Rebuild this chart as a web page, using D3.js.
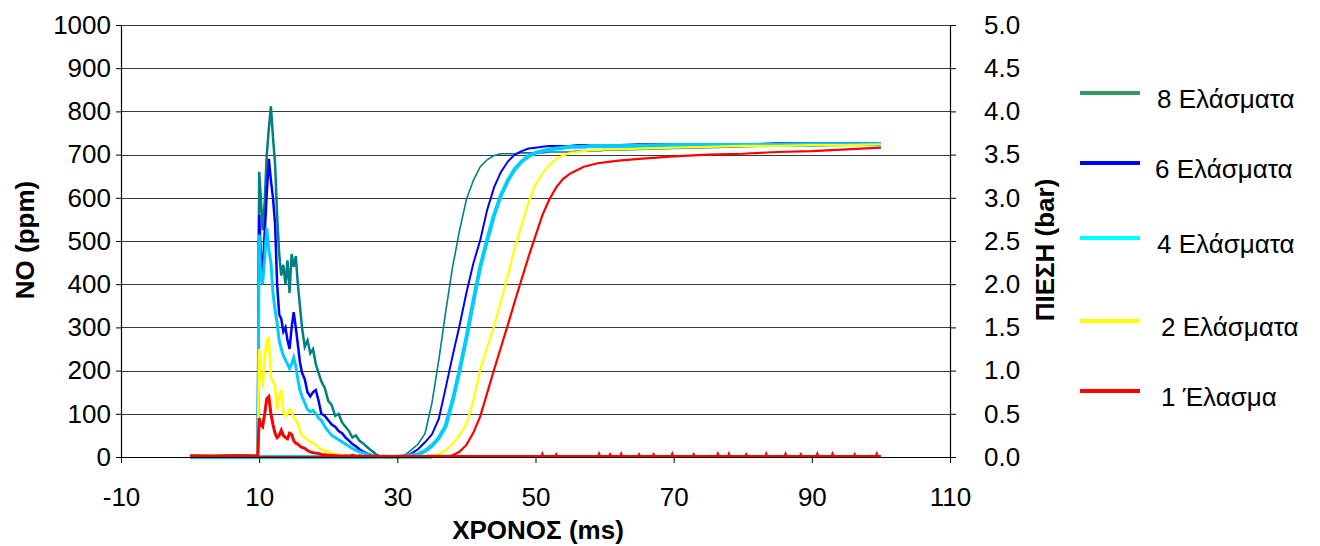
<!DOCTYPE html>
<html>
<head>
<meta charset="utf-8">
<script src="https://cdn.jsdelivr.net/npm/d3@7"></script>
<style>
  html, body { margin: 0; padding: 0; background: #fff; }
  svg { display: block; }
  text { font-family: "Liberation Sans", Arial, sans-serif; fill: #000; }
</style>
</head>
<body>
<svg id="chart" width="1320" height="546"></svg>
<script>
// ---------------- DATA ----------------
const seriesNames = ["8 Ελάσματα", "6 Ελάσματα", "4 Ελάσματα", "2 Ελάσματα", "1 Έλασμα"];
const xTicks = [-10, 10, 30, 50, 70, 90, 110];
const leftTicks = [0, 100, 200, 300, 400, 500, 600, 700, 800, 900, 1000];
const rightTicks = [0, 0.5, 1.0, 1.5, 2.0, 2.5, 3.0, 3.5, 4.0, 4.5, 5.0];
const xTitle = "ΧΡΟΝΟΣ (ms)";
const leftTitle = "NO (ppm)";
const rightTitle = "ΠΙΕΣΗ (bar)";

// NO (ppm), left axis
const noTime = [0, 3, 6, 9.8, 10.0, 10.2, 10.5, 10.8, 11.1, 11.4, 11.7, 12.0, 12.3, 12.6, 12.9, 13.2, 13.5, 13.8, 14.1, 14.4, 14.7, 15.0, 15.3, 15.6, 15.9, 16.2, 16.6, 17.0, 17.4, 17.8, 18.2, 18.6, 19.0, 19.5, 20.0, 20.5, 21.0, 21.5, 22.0, 22.5, 23.0, 23.5, 24.0, 24.5, 25.0, 25.5, 26.0, 26.5, 27.0, 27.5, 28.0, 29, 31, 33, 35];
const no8 = [3, 2, 4, 3, 660, 610, 525, 590, 700, 760, 812, 740, 680, 560, 470, 420, 445, 400, 455, 380, 470, 440, 465, 400, 350, 300, 255, 270, 240, 250, 215, 195, 175, 160, 130, 120, 95, 100, 80, 70, 60, 45, 50, 38, 32, 25, 18, 12, 5, 2, 0, 0, 0, 0, 0];
const no6 = [2, 3, 2, 2, 560, 480, 420, 520, 610, 690, 640, 600, 540, 400, 330, 320, 290, 300, 270, 250, 300, 335, 300, 260, 220, 195, 180, 150, 140, 150, 155, 130, 100, 95, 85, 75, 70, 60, 55, 45, 38, 30, 25, 18, 13, 9, 6, 3, 1, 0, 0, 0, 0, 0, 0];
const no4 = [2, 2, 3, 2, 515, 420, 400, 460, 530, 480, 450, 380, 340, 310, 270, 250, 235, 225, 215, 205, 215, 230, 210, 180, 155, 140, 125, 110, 105, 108, 100, 90, 85, 70, 60, 50, 45, 40, 35, 30, 25, 20, 16, 12, 10, 7, 5, 3, 1, 0, 0, 0, 0, 0, 0];
const no2 = [2, 3, 2, 2, 250, 200, 160, 230, 270, 275, 185, 175, 165, 110, 140, 155, 105, 95, 100, 110, 105, 90, 85, 78, 60, 50, 45, 40, 35, 32, 28, 22, 18, 14, 12, 9, 7, 5, 4, 3, 2, 2, 1, 1, 2, 1, 0, 1, 0, 0, 0, 0, 0, 0, 0];
const no1 = [3, 2, 3, 2, 90, 75, 70, 100, 135, 140, 100, 75, 55, 45, 50, 62, 50, 45, 42, 55, 52, 38, 32, 30, 25, 22, 20, 15, 12, 10, 9, 8, 6, 5, 4, 4, 3, 3, 2, 3, 2, 4, 2, 3, 2, 1, 2, 1, 2, 1, 2, 1, 2, 1, 2];
const no1TailTime = [40, 50.9, 51.0, 51.1, 52.9, 53.0, 53.1, 59.1, 59.2, 59.3, 60.7, 60.8, 60.9, 62.3, 62.4, 62.5, 64.9, 65.0, 65.1, 67.0, 67.1, 67.2, 69.7, 69.8, 69.9, 72.8, 72.9, 73.0, 76.3, 76.4, 76.5, 77.9, 78.0, 78.1, 80.4, 80.5, 80.6, 83.3, 83.4, 83.5, 86.1, 86.2, 86.3, 88.3, 88.4, 88.5, 90.7, 90.8, 90.9, 92.9, 93.0, 93.1, 96.1, 96.2, 96.3, 99.3, 99.4, 99.5, 100];
const no1Tail = [1, 1, 5, 1, 1, 4, 1, 1, 5, 1, 1, 4, 1, 1, 5, 1, 1, 4, 1, 1, 4, 1, 1, 5, 1, 1, 4, 1, 1, 5, 1, 1, 5, 1, 1, 4, 1, 1, 5, 1, 1, 5, 1, 1, 4, 1, 1, 5, 1, 1, 5, 1, 1, 4, 1, 1, 5, 1, 1];

// Pressure (bar), right axis
const pTime = [0, 10, 20, 30, 31, 32, 33, 34, 35, 36, 37, 38, 39, 40, 41, 42, 43, 44, 45, 46, 47, 48, 49, 50, 51, 52, 53, 54, 55, 56, 57, 58, 59, 60, 62, 65, 70, 75, 80, 85, 90, 95, 100];
const p8 = [0, 0, 0, 0, 0.02, 0.08, 0.15, 0.27, 0.62, 1.12, 1.68, 2.2, 2.62, 2.98, 3.2, 3.36, 3.44, 3.49, 3.51, 3.51, 3.51, 3.52, 3.52, 3.52, 3.52, 3.53, 3.53, 3.53, 3.53, 3.54, 3.54, 3.54, 3.54, 3.55, 3.55, 3.56, 3.57, 3.58, 3.59, 3.6, 3.6, 3.61, 3.62];
const p6 = [0, 0, 0, 0, 0.01, 0.04, 0.09, 0.17, 0.26, 0.44, 0.8, 1.17, 1.52, 1.9, 2.24, 2.51, 2.86, 3.12, 3.3, 3.42, 3.5, 3.54, 3.57, 3.58, 3.59, 3.6, 3.6, 3.6, 3.6, 3.61, 3.61, 3.61, 3.61, 3.61, 3.61, 3.62, 3.62, 3.62, 3.62, 3.63, 3.63, 3.63, 3.63];
const p4 = [0, 0, 0, 0, 0.01, 0.02, 0.03, 0.07, 0.13, 0.22, 0.36, 0.65, 1.0, 1.38, 1.8, 2.2, 2.51, 2.8, 3.03, 3.2, 3.33, 3.42, 3.48, 3.52, 3.54, 3.56, 3.57, 3.58, 3.59, 3.59, 3.59, 3.6, 3.6, 3.6, 3.6, 3.6, 3.61, 3.61, 3.61, 3.61, 3.62, 3.62, 3.62];
const p2 = [0, 0, 0, 0, 0, 0, 0, 0, 0.01, 0.03, 0.08, 0.15, 0.25, 0.38, 0.65, 1.01, 1.27, 1.51, 1.8, 2.1, 2.42, 2.68, 2.95, 3.15, 3.28, 3.38, 3.45, 3.49, 3.52, 3.53, 3.54, 3.55, 3.55, 3.56, 3.56, 3.57, 3.58, 3.59, 3.6, 3.6, 3.61, 3.61, 3.62];
const p1 = [0, 0, 0, 0, 0, 0, 0, 0, 0, 0, 0, 0.02, 0.06, 0.14, 0.28, 0.47, 0.74, 1.01, 1.27, 1.53, 1.8, 2.06, 2.32, 2.56, 2.8, 2.98, 3.12, 3.22, 3.28, 3.32, 3.36, 3.38, 3.4, 3.41, 3.43, 3.45, 3.48, 3.5, 3.51, 3.53, 3.54, 3.56, 3.58];

const lineColors = ["#008080", "#0000FF", "#00CCFF", "#FFFF00", "#FF0000"];
const legendColors = ["#339966", "#0000FF", "#00FFFF", "#FFFF00", "#FF0000"];

// ---------------- CHART ----------------
const svg = d3.select("#chart");
const x = d3.scaleLinear().domain([-10, 110]).range([121, 950]);
const yL = d3.scaleLinear().domain([0, 1000]).range([457, 25]);
const yR = d3.scaleLinear().domain([0, 5]).range([457, 25]);

// gridlines
svg.append("g").selectAll("line").data(leftTicks.filter(d => d > 0)).join("line")
  .attr("x1", x(-10)).attr("x2", x(110))
  .attr("y1", d => Math.round(yL(d)) + 0.5).attr("y2", d => Math.round(yL(d)) + 0.5)
  .attr("stroke", "#3a3a3a").attr("stroke-width", 1);

const noSeries = [
  {t: noTime, v: no8}, {t: noTime, v: no6}, {t: noTime, v: no4}, {t: noTime, v: no2},
  {t: noTime.concat(no1TailTime), v: no1.concat(no1Tail)}
];
const pSeries = [p8, p6, p4, p2, p1];
const noWidths = [2.5, 2.5, 3, 2.5, 3];
const pWidths = [1.6, 2, 4, 2.2, 2.2];

const lineNO = d3.line().x(d => x(d[0])).y(d => yL(d[1]));
const lineP = d3.line().x(d => x(d[0])).y(d => yR(d[1]));

const plot = svg.append("g");
// pressure curves
pSeries.forEach((vals, i) => {
  plot.append("path")
    .datum(pTime.map((t, j) => [t, vals[j]]))
    .attr("d", lineP).attr("fill", "none")
    .attr("stroke", lineColors[i]).attr("stroke-width", pWidths[i])
    .attr("stroke-linejoin", "miter");
});
// NO curves
noSeries.forEach((s, i) => {
  plot.append("path")
    .datum(s.t.map((t, j) => [t, s.v[j]]))
    .attr("d", lineNO).attr("fill", "none")
    .attr("stroke", lineColors[i]).attr("stroke-width", noWidths[i])
    .attr("stroke-linejoin", "miter");
});

const fs = "26px";
const ff = '"Liberation Sans", Arial, sans-serif';
// x axis
const gx = svg.append("g").attr("transform", "translate(0,457)")
  .call(d3.axisBottom(x).tickValues(xTicks).tickSize(6).tickPadding(25).tickSizeOuter(0).tickFormat(d => String(d)));
gx.selectAll("text").style("font-size", fs).style("font-family", ff);
// left axis
const gl = svg.append("g").attr("transform", "translate(121,0)")
  .call(d3.axisLeft(yL).tickValues(leftTicks).tickSize(5).tickPadding(5).tickSizeOuter(0).tickFormat(d => String(d)));
gl.selectAll("text").style("font-size", fs).style("font-family", ff);
// right axis
const gr = svg.append("g").attr("transform", "translate(950,0)")
  .call(d3.axisRight(yR).tickValues(rightTicks).tickSize(6).tickPadding(28).tickSizeOuter(0).tickFormat(d => d.toFixed(1)));
gr.selectAll("text").style("font-size", fs).style("font-family", ff);
svg.selectAll(".domain").attr("stroke", "#000").attr("stroke-width", 1.2);
svg.selectAll(".tick line").attr("stroke", "#000");

// titles
svg.append("text").attr("x", 538).attr("y", 539).attr("text-anchor", "middle")
  .style("font-size", fs).style("font-weight", "bold").text(xTitle);
svg.append("text").attr("transform", "translate(34,240) rotate(-90)").attr("text-anchor", "middle")
  .style("font-size", fs).style("font-weight", "bold").text(leftTitle);
svg.append("text").attr("transform", "translate(1054,250) rotate(-90)").attr("text-anchor", "middle")
  .style("font-size", fs).style("font-weight", "bold").text(rightTitle);

// legend
const legY = [93, 163, 238, 321, 391];
const legTextX = [1157, 1155, 1157, 1161, 1161];
const leg = svg.append("g");
seriesNames.forEach((name, i) => {
  leg.append("line").attr("x1", 1080).attr("x2", 1140).attr("y1", legY[i]).attr("y2", legY[i])
    .attr("stroke", legendColors[i]).attr("stroke-width", 4);
  leg.append("text").attr("x", legTextX[i]).attr("y", legY[i] + 15)
    .style("font-size", fs).text(name);
});
</script>
</body>
</html>
